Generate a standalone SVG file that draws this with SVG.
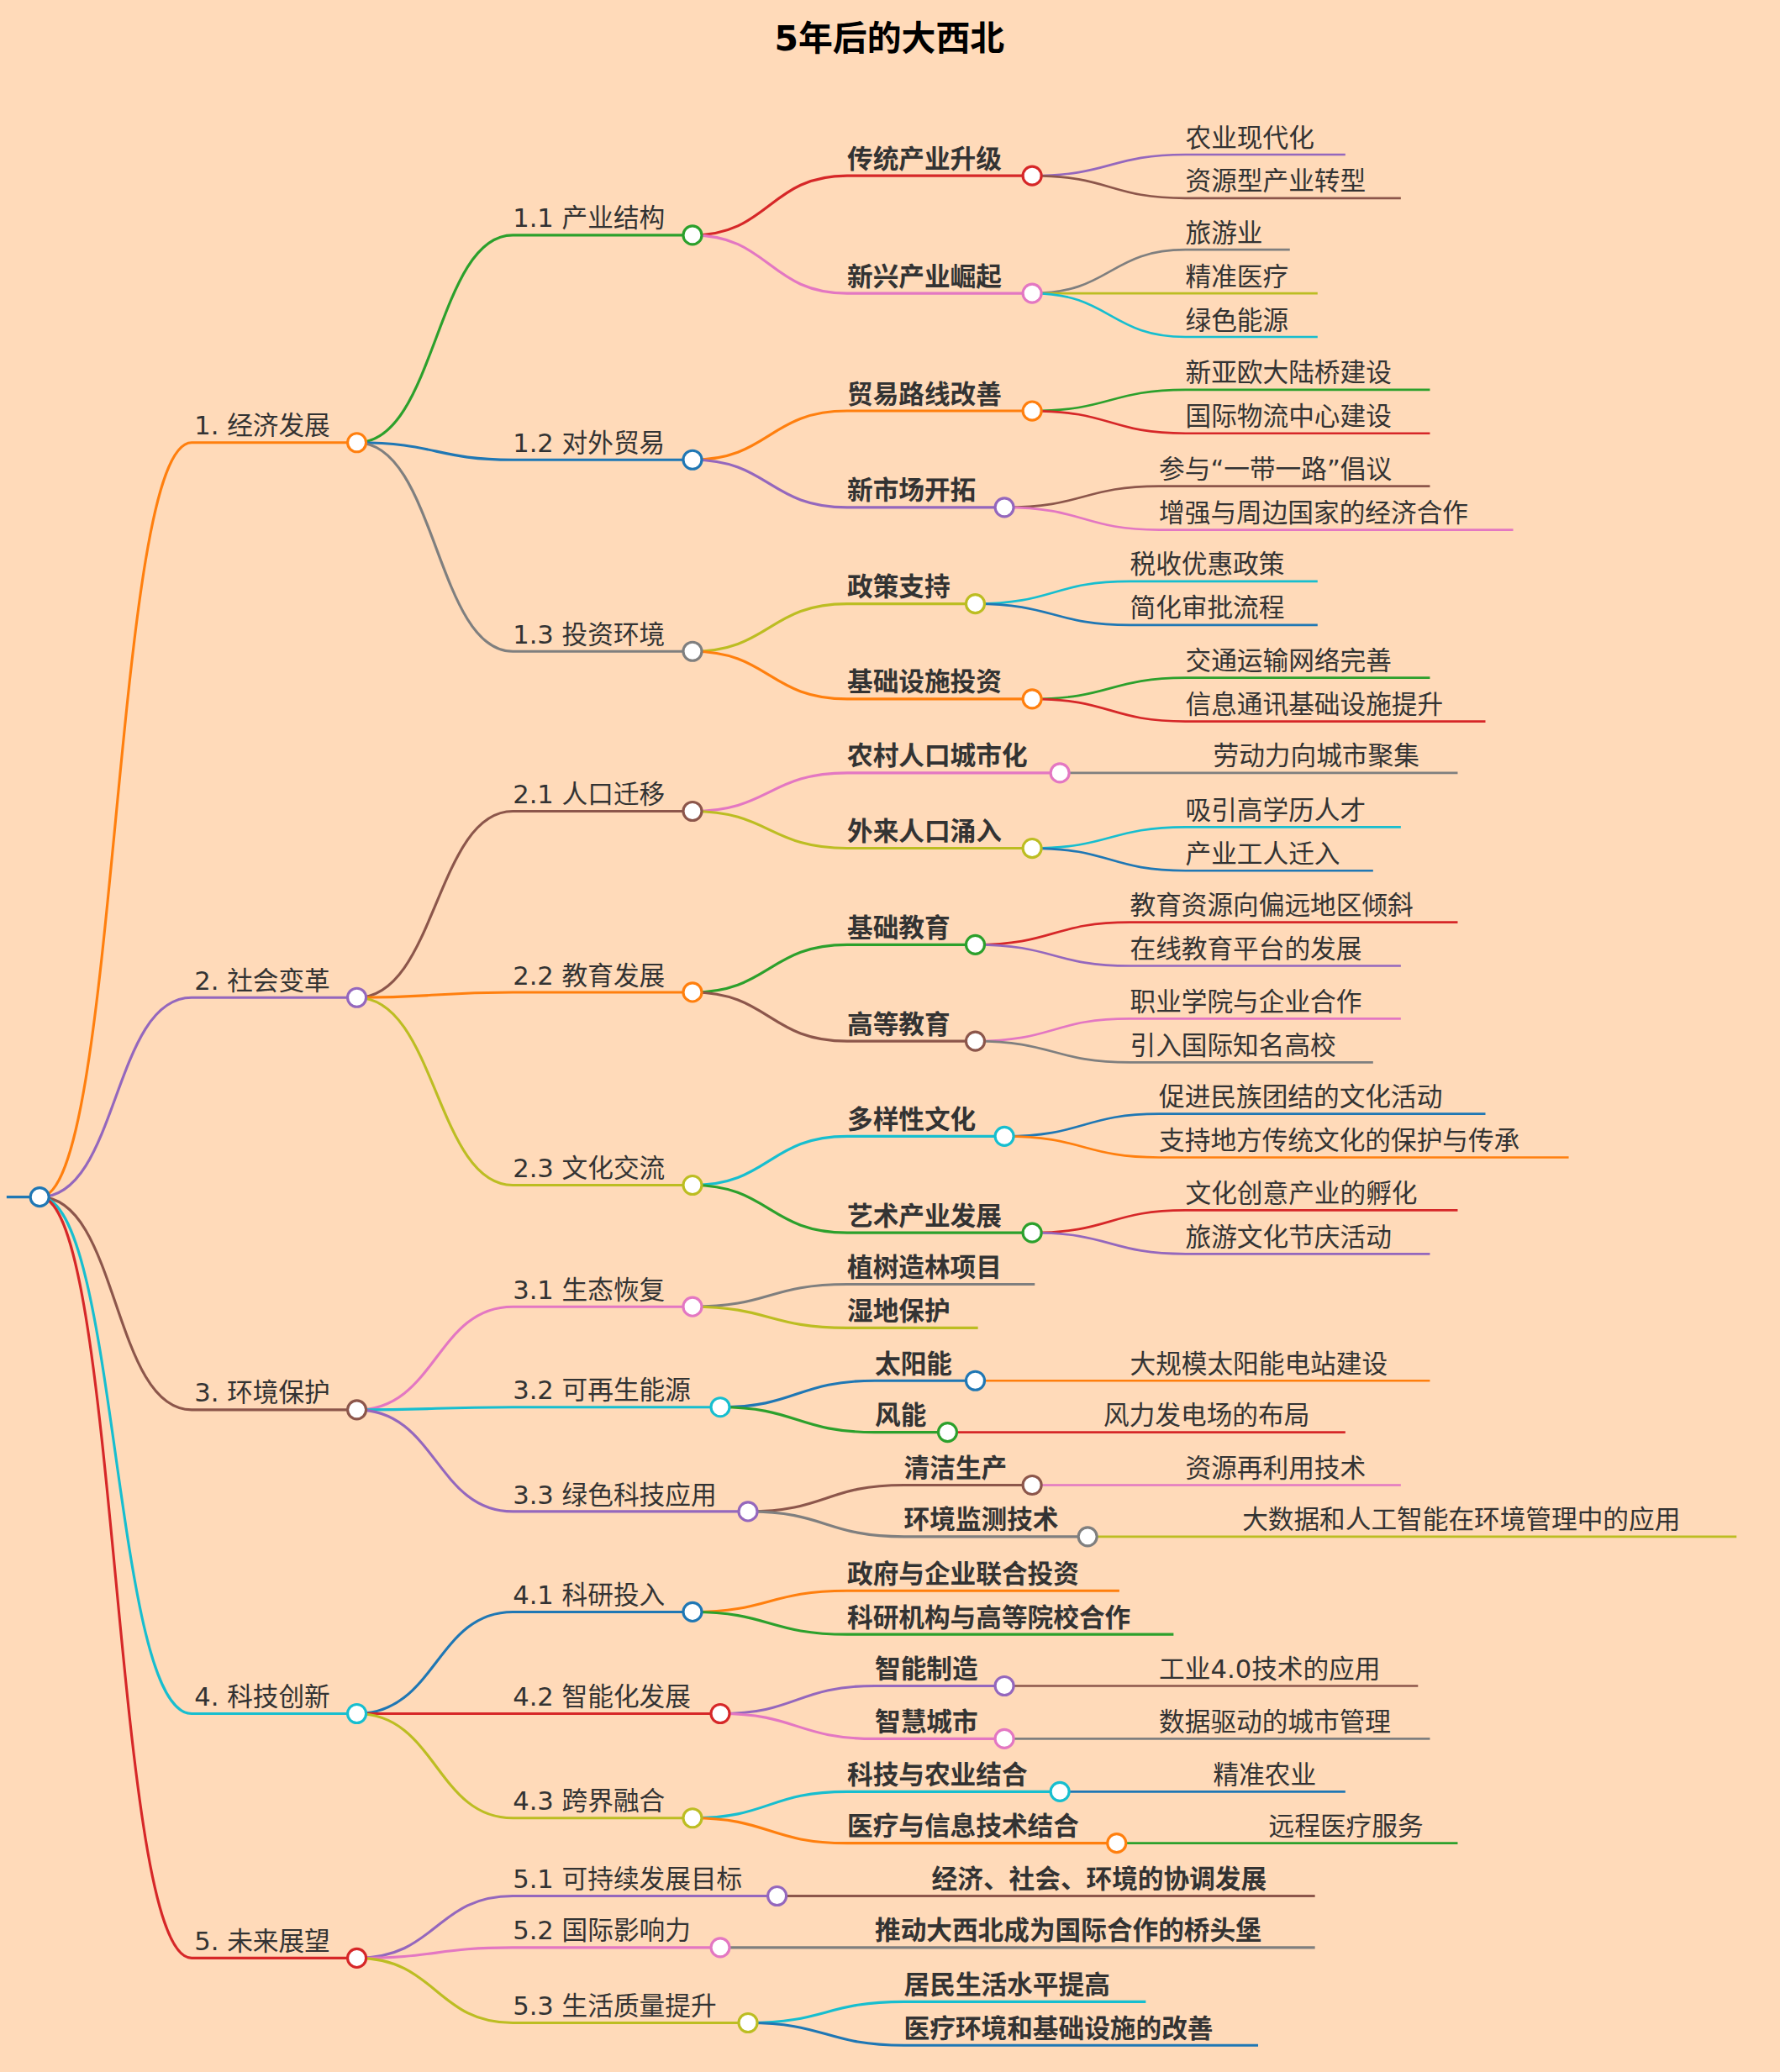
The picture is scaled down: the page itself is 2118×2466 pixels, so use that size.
<svg xmlns="http://www.w3.org/2000/svg" width="2118" height="2466" viewBox="0 0 2118 2466">
<style>
text{font-family:"DejaVu Sans","Noto Sans CJK SC",sans-serif;fill:#333;font-size:19.5px}
.b{font-weight:bold}
.t{font-size:26px;font-weight:bold;fill:#000}
path{fill:none;stroke-width:2}
.l path{stroke-width:1.7}
circle{fill:#fff;stroke-width:2}
.o{stroke:#ff7f0e}.bl{stroke:#1f77b4}.g{stroke:#2ca02c}.r{stroke:#d62728}.p{stroke:#9467bd}.br{stroke:#8c564b}.pk{stroke:#e377c2}.gy{stroke:#7f7f7f}.ol{stroke:#bcbd22}.c{stroke:#17becf}
</style>
<rect width="2118" height="2466" fill="#ffdab9"/>
<g transform="scale(1.5725)">
<text class="t" x="673" y="38" text-anchor="middle">5年后的大西北</text>
<g id="connectors">
<path class="bl" d="M5,906 H30"/>
<path class="o" d="M30,906 C90,906 85,335 145,335 H270"/>
<path class="p" d="M30,906 C90,906 85,755 145,755 H270"/>
<path class="br" d="M30,906 C90,906 85,1067 145,1067 H270"/>
<path class="c" d="M30,906 C90,906 85,1297 145,1297 H270"/>
<path class="r" d="M30,906 C90,906 85,1482 145,1482 H270"/>
<path class="g" d="M270,335 C330,335 330,178 388,178 H524"/>
<path class="bl" d="M270,335 C330,335 330,348 388,348 H524"/>
<path class="gy" d="M270,335 C330,335 330,493 388,493 H524"/>
<path class="br" d="M270,755 C330,755 330,614 388,614 H524"/>
<path class="o" d="M270,755 C330,755 330,751 388,751 H524"/>
<path class="ol" d="M270,755 C330,755 330,897 388,897 H524"/>
<path class="pk" d="M270,1067 C330,1067 330,989 388,989 H524"/>
<path class="c" d="M270,1067 C330,1067 330,1065 388,1065 H545"/>
<path class="p" d="M270,1067 C330,1067 330,1144 388,1144 H566"/>
<path class="bl" d="M270,1297 C330,1297 330,1220 388,1220 H524"/>
<path class="r" d="M270,1297 C330,1297 330,1297 388,1297 H545"/>
<path class="ol" d="M270,1297 C330,1297 330,1376 388,1376 H524"/>
<path class="p" d="M270,1482 C330,1482 330,1435 388,1435 H588"/>
<path class="pk" d="M270,1482 C330,1482 330,1474 388,1474 H545"/>
<path class="ol" d="M270,1482 C330,1482 330,1531 388,1531 H566"/>
<path class="r" d="M524,178 C582,178 582,133 641,133 H781"/>
<path class="pk" d="M524,178 C582,178 582,222 641,222 H781"/>
<path class="o" d="M524,348 C582,348 582,311 641,311 H781"/>
<path class="p" d="M524,348 C582,348 582,384 641,384 H760"/>
<path class="ol" d="M524,493 C582,493 582,457 641,457 H738"/>
<path class="o" d="M524,493 C582,493 582,529 641,529 H781"/>
<path class="pk" d="M524,614 C582,614 582,585 641,585 H802"/>
<path class="ol" d="M524,614 C582,614 582,642 641,642 H781"/>
<path class="g" d="M524,751 C582,751 582,715 641,715 H738"/>
<path class="br" d="M524,751 C582,751 582,788 641,788 H738"/>
<path class="c" d="M524,897 C582,897 582,860 641,860 H760"/>
<path class="g" d="M524,897 C582,897 582,933 641,933 H781"/>
<path class="gy" d="M524,989 C582,989 582,972 641,972 H783"/>
<path class="ol" d="M524,989 C582,989 582,1005 641,1005 H740"/>
<path class="bl" d="M545,1065 C603,1065 603,1045 662,1045 H738"/>
<path class="g" d="M545,1065 C603,1065 603,1084 662,1084 H717"/>
<path class="br" d="M566,1144 C625,1144 625,1124 684,1124 H781"/>
<path class="gy" d="M566,1144 C625,1144 625,1163 684,1163 H823"/>
<path class="o" d="M524,1220 C582,1220 582,1204 641,1204 H847"/>
<path class="g" d="M524,1220 C582,1220 582,1237 641,1237 H888"/>
<path class="p" d="M545,1297 C603,1297 603,1276 662,1276 H760"/>
<path class="pk" d="M545,1297 C603,1297 603,1316 662,1316 H760"/>
<path class="c" d="M524,1376 C582,1376 582,1356 641,1356 H802"/>
<path class="o" d="M524,1376 C582,1376 582,1395 641,1395 H845"/>
<path class="br" d="M588,1435 H995"/>
<path class="gy" d="M545,1474 H995"/>
<path class="c" d="M566,1531 C625,1531 625,1515 684,1515 H867"/>
<path class="bl" d="M566,1531 C625,1531 625,1548 684,1548 H952"/>
<g class="l">
<path class="p" d="M781,133 C840,133 840,117 897,117 H1018"/>
<path class="br" d="M781,133 C840,133 840,150 897,150 H1060"/>
<path class="gy" d="M781,222 C840,222 840,189 897,189 H976"/>
<path class="ol" d="M781,222 H997"/>
<path class="c" d="M781,222 C840,222 840,255 897,255 H997"/>
<path class="g" d="M781,311 C840,311 840,295 897,295 H1082"/>
<path class="r" d="M781,311 C840,311 840,328 897,328 H1082"/>
<path class="br" d="M760,384 C820,384 820,368 877,368 H1082"/>
<path class="pk" d="M760,384 C820,384 820,401 877,401 H1145"/>
<path class="c" d="M738,457 C797,457 797,440 855,440 H997"/>
<path class="bl" d="M738,457 C797,457 797,473 855,473 H997"/>
<path class="g" d="M781,529 C840,529 840,513 897,513 H1082"/>
<path class="r" d="M781,529 C840,529 840,546 897,546 H1124"/>
<path class="gy" d="M802,585 H1103"/>
<path class="c" d="M781,642 C840,642 840,626 897,626 H1060"/>
<path class="bl" d="M781,642 C840,642 840,659 897,659 H1039"/>
<path class="r" d="M738,715 C797,715 797,698 855,698 H1103"/>
<path class="p" d="M738,715 C797,715 797,731 855,731 H1060"/>
<path class="pk" d="M738,788 C797,788 797,771 855,771 H1060"/>
<path class="gy" d="M738,788 C797,788 797,804 855,804 H1039"/>
<path class="bl" d="M760,860 C820,860 820,843 877,843 H1124"/>
<path class="o" d="M760,860 C820,860 820,876 877,876 H1187"/>
<path class="r" d="M781,933 C840,933 840,916 897,916 H1103"/>
<path class="p" d="M781,933 C840,933 840,949 897,949 H1082"/>
<path class="o" d="M738,1045 H1082"/>
<path class="r" d="M717,1084 H1018"/>
<path class="pk" d="M781,1124 H1060"/>
<path class="ol" d="M823,1163 H1314"/>
<path class="br" d="M760,1276 H1073"/>
<path class="gy" d="M760,1316 H1082"/>
<path class="bl" d="M802,1356 H1018"/>
<path class="g" d="M845,1395 H1103"/>
</g>
</g>
<g id="nodes">
<g id="root"><circle class="bl" cx="30" cy="906" r="7"/></g>
<g id="n1"><text x="147" y="329">1. 经济发展</text><circle class="o" cx="270" cy="335" r="7"/></g>
<g id="n2"><text x="147" y="749">2. 社会变革</text><circle class="p" cx="270" cy="755" r="7"/></g>
<g id="n3"><text x="147" y="1061">3. 环境保护</text><circle class="br" cx="270" cy="1067" r="7"/></g>
<g id="n4"><text x="147" y="1291">4. 科技创新</text><circle class="c" cx="270" cy="1297" r="7"/></g>
<g id="n5"><text x="147" y="1476">5. 未来展望</text><circle class="r" cx="270" cy="1482" r="7"/></g>
<g id="n11"><text x="388" y="172">1.1 产业结构</text><circle class="g" cx="524" cy="178" r="7"/></g>
<g id="n12"><text x="388" y="342">1.2 对外贸易</text><circle class="bl" cx="524" cy="348" r="7"/></g>
<g id="n13"><text x="388" y="487">1.3 投资环境</text><circle class="gy" cx="524" cy="493" r="7"/></g>
<g id="n21"><text x="388" y="608">2.1 人口迁移</text><circle class="br" cx="524" cy="614" r="7"/></g>
<g id="n22"><text x="388" y="745">2.2 教育发展</text><circle class="o" cx="524" cy="751" r="7"/></g>
<g id="n23"><text x="388" y="891">2.3 文化交流</text><circle class="ol" cx="524" cy="897" r="7"/></g>
<g id="n31"><text x="388" y="983">3.1 生态恢复</text><circle class="pk" cx="524" cy="989" r="7"/></g>
<g id="n32"><text x="388" y="1059">3.2 可再生能源</text><circle class="c" cx="545" cy="1065" r="7"/></g>
<g id="n33"><text x="388" y="1138">3.3 绿色科技应用</text><circle class="p" cx="566" cy="1144" r="7"/></g>
<g id="n41"><text x="388" y="1214">4.1 科研投入</text><circle class="bl" cx="524" cy="1220" r="7"/></g>
<g id="n42"><text x="388" y="1291">4.2 智能化发展</text><circle class="r" cx="545" cy="1297" r="7"/></g>
<g id="n43"><text x="388" y="1370">4.3 跨界融合</text><circle class="ol" cx="524" cy="1376" r="7"/></g>
<g id="n51"><text x="388" y="1429">5.1 可持续发展目标</text><circle class="p" cx="588" cy="1435" r="7"/></g>
<g id="n52"><text x="388" y="1468">5.2 国际影响力</text><circle class="pk" cx="545" cy="1474" r="7"/></g>
<g id="n53"><text x="388" y="1525">5.3 生活质量提升</text><circle class="ol" cx="566" cy="1531" r="7"/></g>
<g id="n111"><text class="b" x="641" y="127">传统产业升级</text><circle class="r" cx="781" cy="133" r="7"/></g>
<g id="n112"><text class="b" x="641" y="216">新兴产业崛起</text><circle class="pk" cx="781" cy="222" r="7"/></g>
<g id="n121"><text class="b" x="641" y="305">贸易路线改善</text><circle class="o" cx="781" cy="311" r="7"/></g>
<g id="n122"><text class="b" x="641" y="378">新市场开拓</text><circle class="p" cx="760" cy="384" r="7"/></g>
<g id="n131"><text class="b" x="641" y="451">政策支持</text><circle class="ol" cx="738" cy="457" r="7"/></g>
<g id="n132"><text class="b" x="641" y="523">基础设施投资</text><circle class="o" cx="781" cy="529" r="7"/></g>
<g id="n211"><text class="b" x="641" y="579">农村人口城市化</text><circle class="pk" cx="802" cy="585" r="7"/></g>
<g id="n212"><text class="b" x="641" y="636">外来人口涌入</text><circle class="ol" cx="781" cy="642" r="7"/></g>
<g id="n221"><text class="b" x="641" y="709">基础教育</text><circle class="g" cx="738" cy="715" r="7"/></g>
<g id="n222"><text class="b" x="641" y="782">高等教育</text><circle class="br" cx="738" cy="788" r="7"/></g>
<g id="n231"><text class="b" x="641" y="854">多样性文化</text><circle class="c" cx="760" cy="860" r="7"/></g>
<g id="n232"><text class="b" x="641" y="927">艺术产业发展</text><circle class="g" cx="781" cy="933" r="7"/></g>
<g id="n311"><text class="b" x="641" y="966">植树造林项目</text></g>
<g id="n312"><text class="b" x="641" y="999">湿地保护</text></g>
<g id="n321"><text class="b" x="662" y="1039">太阳能</text><circle class="bl" cx="738" cy="1045" r="7"/></g>
<g id="n322"><text class="b" x="662" y="1078">风能</text><circle class="g" cx="717" cy="1084" r="7"/></g>
<g id="n331"><text class="b" x="684" y="1118">清洁生产</text><circle class="br" cx="781" cy="1124" r="7"/></g>
<g id="n332"><text class="b" x="684" y="1157">环境监测技术</text><circle class="gy" cx="823" cy="1163" r="7"/></g>
<g id="n411"><text class="b" x="641" y="1198">政府与企业联合投资</text></g>
<g id="n412"><text class="b" x="641" y="1231">科研机构与高等院校合作</text></g>
<g id="n421"><text class="b" x="662" y="1270">智能制造</text><circle class="p" cx="760" cy="1276" r="7"/></g>
<g id="n422"><text class="b" x="662" y="1310">智慧城市</text><circle class="pk" cx="760" cy="1316" r="7"/></g>
<g id="n431"><text class="b" x="641" y="1350">科技与农业结合</text><circle class="c" cx="802" cy="1356" r="7"/></g>
<g id="n432"><text class="b" x="641" y="1389">医疗与信息技术结合</text><circle class="o" cx="845" cy="1395" r="7"/></g>
<g id="n511"><text class="b" x="705" y="1429">经济、社会、环境的协调发展</text></g>
<g id="n521"><text class="b" x="662" y="1468">推动大西北成为国际合作的桥头堡</text></g>
<g id="n531"><text class="b" x="684" y="1509">居民生活水平提高</text></g>
<g id="n532"><text class="b" x="684" y="1542">医疗环境和基础设施的改善</text></g>
<g id="leaves">
<text x="897" y="111">农业现代化</text>
<text x="897" y="144">资源型产业转型</text>
<text x="897" y="183">旅游业</text>
<text x="897" y="216">精准医疗</text>
<text x="897" y="249">绿色能源</text>
<text x="897" y="289">新亚欧大陆桥建设</text>
<text x="897" y="322">国际物流中心建设</text>
<text x="877" y="362">参与“一带一路”倡议</text>
<text x="877" y="395">增强与周边国家的经济合作</text>
<text x="855" y="434">税收优惠政策</text>
<text x="855" y="467">简化审批流程</text>
<text x="897" y="507">交通运输网络完善</text>
<text x="897" y="540">信息通讯基础设施提升</text>
<text x="918" y="579">劳动力向城市聚集</text>
<text x="897" y="620">吸引高学历人才</text>
<text x="897" y="653">产业工人迁入</text>
<text x="855" y="692">教育资源向偏远地区倾斜</text>
<text x="855" y="725">在线教育平台的发展</text>
<text x="855" y="765">职业学院与企业合作</text>
<text x="855" y="798">引入国际知名高校</text>
<text x="877" y="837">促进民族团结的文化活动</text>
<text x="877" y="870">支持地方传统文化的保护与传承</text>
<text x="897" y="910">文化创意产业的孵化</text>
<text x="897" y="943">旅游文化节庆活动</text>
<text x="855" y="1039">大规模太阳能电站建设</text>
<text x="835" y="1078">风力发电场的布局</text>
<text x="897" y="1118">资源再利用技术</text>
<text x="940" y="1157">大数据和人工智能在环境管理中的应用</text>
<text x="877" y="1270">工业4.0技术的应用</text>
<text x="877" y="1310">数据驱动的城市管理</text>
<text x="918" y="1350">精准农业</text>
<text x="960" y="1389">远程医疗服务</text>
</g>
</g>
</g>
</svg>
